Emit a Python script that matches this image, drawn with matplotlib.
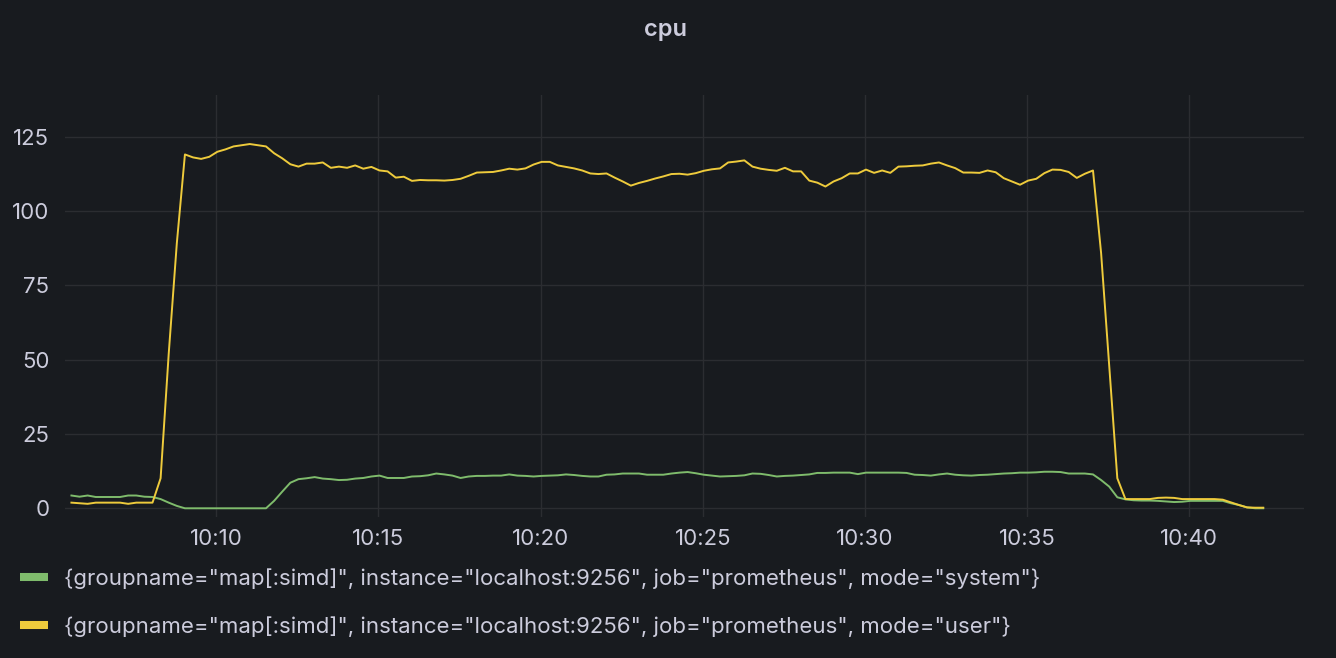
import matplotlib
matplotlib.use("Agg")
import matplotlib.pyplot as plt
import matplotlib.dates as mdates
from matplotlib.lines import Line2D
import pandas as pd

# samples every 15 s
start_time = "2024-01-01 10:05:32"
step = "15s"

system_vals = [
    4.3, 3.9, 4.3, 3.8, 3.8, 3.8, 3.8, 4.3, 4.3, 3.9,
    3.8, 3.1, 1.9, 0.8, 0.0, 0.0, 0.0, 0.0, 0.0, 0.0,
    0.0, 0.0, 0.0, 0.0, 0.0, 2.5, 5.6, 8.6, 9.8, 10.1,
    10.5, 10.0, 9.8, 9.5, 9.6, 10.0, 10.2, 10.7, 11.0, 10.2,
    10.2, 10.2, 10.7, 10.8, 11.1, 11.7, 11.4, 11.0, 10.2, 10.7,
    10.9, 10.9, 11.0, 11.0, 11.4, 11.0, 10.9, 10.7, 10.9, 11.0,
    11.1, 11.4, 11.2, 10.9, 10.7, 10.7, 11.3, 11.4, 11.7, 11.7,
    11.7, 11.3, 11.3, 11.3, 11.7, 12.0, 12.2, 11.8, 11.3, 11.0,
    10.7, 10.8, 10.9, 11.1, 11.7, 11.6, 11.2, 10.7, 10.9, 11.0,
    11.2, 11.4, 11.9, 11.9, 12.0, 12.0, 12.0, 11.5, 12.0, 12.0,
    12.0, 12.0, 12.0, 11.9, 11.3, 11.2, 11.0, 11.4, 11.7, 11.3,
    11.1, 11.0, 11.2, 11.3, 11.5, 11.7, 11.8, 12.0, 12.0, 12.1,
    12.3, 12.3, 12.2, 11.7, 11.7, 11.7, 11.4, 9.5, 7.3, 3.7,
    3.0, 2.7, 2.6, 2.6, 2.5, 2.3, 2.1, 2.2, 2.5, 2.5,
    2.5, 2.5, 2.5, 1.7, 1.1, 0.3, 0.0, 0.0,
]

user_vals = [
    1.9, 1.7, 1.5, 1.9, 1.9, 1.9, 1.9, 1.5, 1.9, 1.9,
    1.9, 10.1, 52.0, 89.2, 119.1, 118.1, 117.6, 118.3, 120.0, 120.8,
    121.8, 122.2, 122.6, 122.2, 121.8, 119.5, 117.8, 115.8, 115.0, 116.0,
    116.0, 116.4, 114.6, 115.0, 114.6, 115.4, 114.3, 114.9, 113.7, 113.4,
    111.3, 111.6, 110.2, 110.5, 110.4, 110.4, 110.3, 110.5, 110.9, 111.9,
    113.0, 113.1, 113.2, 113.7, 114.3, 114.0, 114.4, 115.7, 116.6, 116.6,
    115.4, 114.9, 114.4, 113.7, 112.7, 112.5, 112.7, 111.3, 110.0, 108.6,
    109.5, 110.2, 111.0, 111.7, 112.5, 112.6, 112.3, 112.8, 113.6, 114.1,
    114.4, 116.4, 116.7, 117.1, 115.0, 114.3, 113.9, 113.6, 114.6, 113.4,
    113.4, 110.3, 109.6, 108.3, 110.0, 111.1, 112.7, 112.7, 114.0, 112.9,
    113.7, 112.9, 115.0, 115.1, 115.3, 115.4, 116.0, 116.4, 115.4, 114.5,
    113.0, 113.0, 112.9, 113.7, 113.1, 111.1, 110.0, 108.9, 110.3, 110.9,
    112.8, 114.0, 113.9, 113.2, 111.2, 112.6, 113.7, 85.9, 48.0, 10.1,
    3.1, 3.1, 3.1, 3.1, 3.5, 3.6, 3.5, 3.1, 3.1, 3.1,
    3.1, 3.1, 2.9, 2.0, 1.1, 0.3, 0.2, 0.2,
]

labels = [
    '{groupname="map[:simd]", instance="localhost:9256", job="prometheus", mode="system"}',
    '{groupname="map[:simd]", instance="localhost:9256", job="prometheus", mode="user"}',
]
colors = ["#7fbc6c", "#eecb3c"]
y_ticks = [0, 25, 50, 75, 100, 125]

times = pd.date_range(start_time, periods=len(user_vals), freq=step)

bg = "#181b1f"
text_col = "#ccccdc"
grid_col = "#2b2d31"

plt.rcParams["font.family"] = ["Inter", "DejaVu Sans"]

fig = plt.figure(figsize=(13.36, 6.58), dpi=100, facecolor=bg)
ax = fig.add_axes([0.0484, 0.2143, 0.9279, 0.6413], facecolor=bg)

ax.plot(times, system_vals, color=colors[0], lw=1.4)
ax.plot(times, user_vals, color=colors[1], lw=1.4)

ax.set_ylim(-2.93, 139.1)
ax.set_xlim(pd.Timestamp("2024-01-01 10:05:19.5"), pd.Timestamp("2024-01-01 10:43:33"))
ax.set_yticks(y_ticks)
ax.xaxis.set_major_locator(mdates.MinuteLocator(byminute=range(0, 60, 5)))
ax.xaxis.set_major_formatter(mdates.DateFormatter("%H:%M"))

ax.grid(True, color=grid_col, lw=1)
ax.set_axisbelow(True)
for s in ax.spines.values():
    s.set_visible(False)
ax.tick_params(axis="both", length=0, colors=text_col, labelsize=16)
ax.tick_params(axis="y", pad=11)
ax.tick_params(axis="x", pad=9)

fig.text(0.4985, 0.955, "cpu", ha="center", va="center", color=text_col,
         fontsize=17, fontweight="semibold")

# legend keys are short flat bars
handles = [Line2D([], [], color=c, lw=5.8, solid_capstyle="butt") for c in colors]
fig.legend(handles, labels, loc="upper left", bbox_to_anchor=(0.015, 0.137),
           frameon=False, fontsize=16, labelcolor=text_col, handlelength=1.26,
           handletextpad=0.72, labelspacing=1.26, borderpad=0, borderaxespad=0)

fig.savefig("out.png", dpi=100, facecolor=bg)
